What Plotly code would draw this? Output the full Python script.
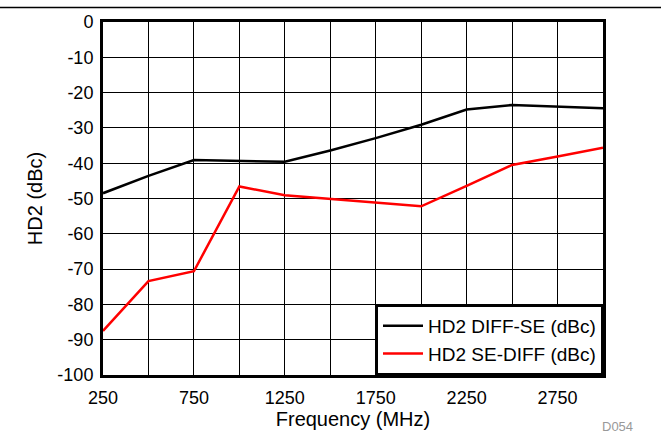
import plotly.graph_objects as go

freq = [250, 500, 750, 1000, 1250, 1500, 1750, 2000, 2250, 2500, 2750, 3000]
hd2_diff_se = [-48.5, -43.6, -39.1, -39.4, -39.6, -36.4, -32.9, -29.1, -24.8, -23.5, -23.9, -24.4]
hd2_se_diff = [-87.5, -73.4, -70.6, -46.6, -49.1, -50.1, -51.1, -52.2, -46.4, -40.5, -38.1, -35.6]
series_names = ["HD2 DIFF-SE (dBc)", "HD2 SE-DIFF (dBc)"]
x_tick_vals = [250, 750, 1250, 1750, 2250, 2750]
x_tick_text = ["250", "750", "1250", "1750", "2250", "2750"]
y_tick_vals = [0, -10, -20, -30, -40, -50, -60, -70, -80, -90, -100]
y_tick_text = ["0", "-10", "-20", "-30", "-40", "-50", "-60", "-70", "-80", "-90", "-100"]

FONT = "Liberation Sans, Arial, sans-serif"

fig = go.Figure()
fig.add_trace(go.Scatter(x=freq, y=hd2_diff_se, mode="lines", name=series_names[0],
                         line=dict(color="black", width=2.5)))
fig.add_trace(go.Scatter(x=freq, y=hd2_se_diff, mode="lines", name=series_names[1],
                         line=dict(color="red", width=2.5)))

fig.update_layout(
    width=661, height=437,
    margin=dict(l=103, r=58, t=20, b=61),
    paper_bgcolor="white", plot_bgcolor="white",
    font=dict(family=FONT, size=18, color="black"),
    showlegend=True,
    legend=dict(x=1, y=0, xanchor="right", yanchor="bottom",
                bgcolor="white", bordercolor="black", borderwidth=2,
                font=dict(family=FONT, size=19, color="black"),
                tracegroupgap=0, itemwidth=40),
    xaxis=dict(range=[250, 3000], tickvals=x_tick_vals, ticktext=x_tick_text,
               showgrid=True, gridcolor="black", gridwidth=1,
               minor=dict(dtick=250, tick0=250, showgrid=True, gridcolor="black", gridwidth=1),
               showline=True, linecolor="black", linewidth=3, mirror=True,
               ticks="", zeroline=False, ticklabelstandoff=4,
               title=dict(text="Frequency (MHz)", standoff=3, font=dict(size=20))),
    yaxis=dict(range=[-100, 0], tickvals=y_tick_vals, ticktext=y_tick_text,
               showgrid=True, gridcolor="black", gridwidth=1,
               showline=True, linecolor="black", linewidth=3, mirror=True,
               ticks="", zeroline=False, ticklabelstandoff=3,
               title=dict(text="HD2 (dBc)", standoff=10, font=dict(size=20))),
)

fig.add_shape(type="line", xref="paper", yref="paper", x0=-0.21, x1=1.12,
              y0=1.041, y1=1.041, line=dict(color="black", width=1.5))

fig.add_annotation(text="D054", xref="paper", yref="paper", x=1.028, y=-0.146,
                   xanchor="center", yanchor="middle", showarrow=False,
                   font=dict(family=FONT, size=13, color="#999999"))

fig.write_html("out.html", config={"displayModeBar": False},
               post_script="document.body.style.margin='0';")
